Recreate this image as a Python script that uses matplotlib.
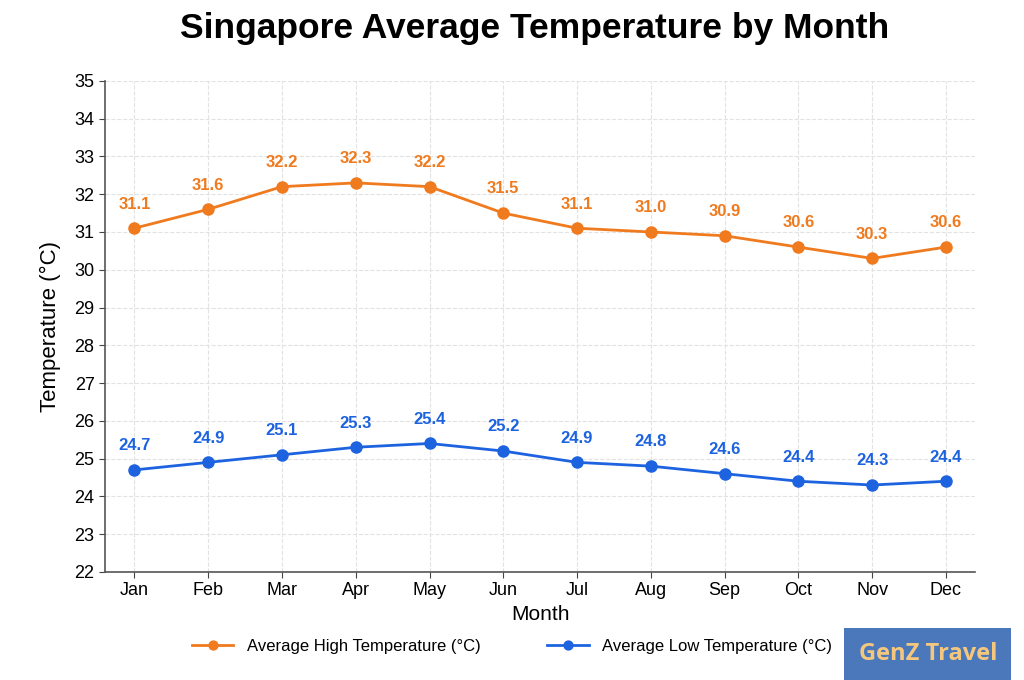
import matplotlib.pyplot as plt

plt.rcParams['font.family'] = ['Liberation Sans', 'DejaVu Sans']

months = ['Jan', 'Feb', 'Mar', 'Apr', 'May', 'Jun', 'Jul', 'Aug', 'Sep', 'Oct', 'Nov', 'Dec']
high = [31.1, 31.6, 32.2, 32.3, 32.2, 31.5, 31.1, 31.0, 30.9, 30.6, 30.3, 30.6]
low = [24.7, 24.9, 25.1, 25.3, 25.4, 25.2, 24.9, 24.8, 24.6, 24.4, 24.3, 24.4]

orange = '#f07a1e'
blue = '#1d63e0'

fig = plt.figure(figsize=(10.24, 6.8), dpi=100)
ax = fig.add_axes([0.1025, 0.159, 0.85, 0.722])

x = range(len(months))
ax.plot(x, high, '-o', color=orange, lw=2, ms=8, label='Average High Temperature (°C)')
ax.plot(x, low, '-o', color=blue, lw=2, ms=8, label='Average Low Temperature (°C)')

for i, v in enumerate(high):
    ax.annotate(f'{v:.1f}', (i, v), xytext=(0, 12), textcoords='offset points',
                ha='center', va='bottom', color=orange, fontsize=12, fontweight='bold')
for i, v in enumerate(low):
    ax.annotate(f'{v:.1f}', (i, v), xytext=(0, 12), textcoords='offset points',
                ha='center', va='bottom', color=blue, fontsize=12, fontweight='bold')

ax.set_xlim(-0.4, 11.4)
ax.set_ylim(22, 35)
ax.set_yticks(range(22, 36))
ax.set_xticks(list(x))
ax.set_xticklabels(months)
ax.tick_params(labelsize=13, length=4, color='#444444')
ax.grid(True, ls='--', color='#e2e2e2', lw=0.8)
for s in ['top', 'right']:
    ax.spines[s].set_visible(False)
for s in ['left', 'bottom']:
    ax.spines[s].set_color('#555555')
    ax.spines[s].set_linewidth(1.2)

ax.set_xlabel('Month', fontsize=15, labelpad=4)
ax.set_ylabel('Temperature (°C)', fontsize=16, labelpad=10)
fig.suptitle('Singapore Average Temperature by Month', fontsize=25.5, fontweight='bold',
             x=0.522, y=0.983)

fig.legend(loc='center', bbox_to_anchor=(0.5, 0.05), ncol=2, frameon=False,
           fontsize=12, columnspacing=4, handlelength=2.5, markerscale=0.8)

fig.text(0.906, 0.038, 'GenZ Travel', ha='center', va='center', fontsize=17, fontweight='bold',
         color='#f5c77e', family=['Open Sans', 'DejaVu Sans'],
         bbox=dict(boxstyle='square,pad=0.6', facecolor='#4a78bb', edgecolor='none'))

fig.savefig('out.png', dpi=100)
